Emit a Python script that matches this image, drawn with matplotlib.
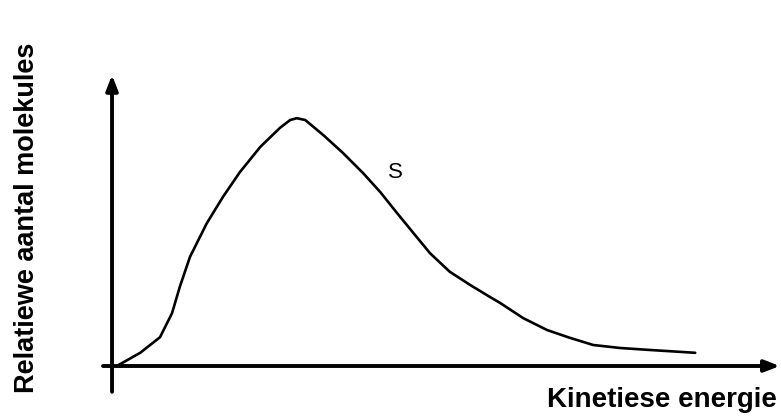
import matplotlib.pyplot as plt

plt.rcParams['font.family'] = ['Liberation Sans', 'DejaVu Sans']

# kinetic energy (arbitrary units) and relative number of molecules
energy = [0.08, 0.47, 0.8, 1.0, 1.13, 1.3, 1.58, 1.85, 2.13, 2.47, 2.8, 2.97, 3.08,
          3.22, 3.52, 3.85, 4.18, 4.47, 4.75, 5.02, 5.3, 5.63, 5.97, 6.3, 6.47,
          6.85, 7.25, 7.63, 8.02, 8.47, 8.92, 9.72]
count = [0.0, 0.22, 0.48, 0.88, 1.32, 1.82, 2.38, 2.82, 3.23, 3.65, 3.97, 4.1, 4.13,
         4.1, 3.85, 3.55, 3.22, 2.9, 2.55, 2.22, 1.88, 1.57, 1.35, 1.15, 1.05,
         0.8, 0.6, 0.47, 0.35, 0.3, 0.27, 0.22]

curve_label = 'S'
xlabel = 'Kinetiese energie'
ylabel = 'Relatiewe aantal molekules'

fig = plt.figure(figsize=(7.81, 4.17), dpi=100)
ax = fig.add_axes([0, 0, 1, 1])
ax.set_xlim(-1.867, 11.15)
ax.set_ylim(-0.85, 6.1)
ax.axis('off')

# axes with arrows
arrow = dict(arrowstyle='-|>,head_length=0.9,head_width=0.35', lw=2.8, color='black',
             shrinkA=0, shrinkB=0)
ax.annotate('', xy=(11.13, 0), xytext=(-0.15, 0), arrowprops=arrow)
ax.annotate('', xy=(0, 4.85), xytext=(0, -0.43), arrowprops=arrow)

ax.plot(energy, count, color='black', lw=1.9, solid_joinstyle='round',
        solid_capstyle='round')

ax.text(4.73, 3.22, curve_label, fontsize=16, ha='center', va='center')
ax.text(11.08, -0.57, xlabel, fontsize=20, fontweight='bold', ha='right', va='center')
ax.text(-1.42, 2.47, ylabel, fontsize=19.5, fontweight='bold', ha='center',
        va='center', rotation=90)

fig.savefig('out.png', dpi=100)
